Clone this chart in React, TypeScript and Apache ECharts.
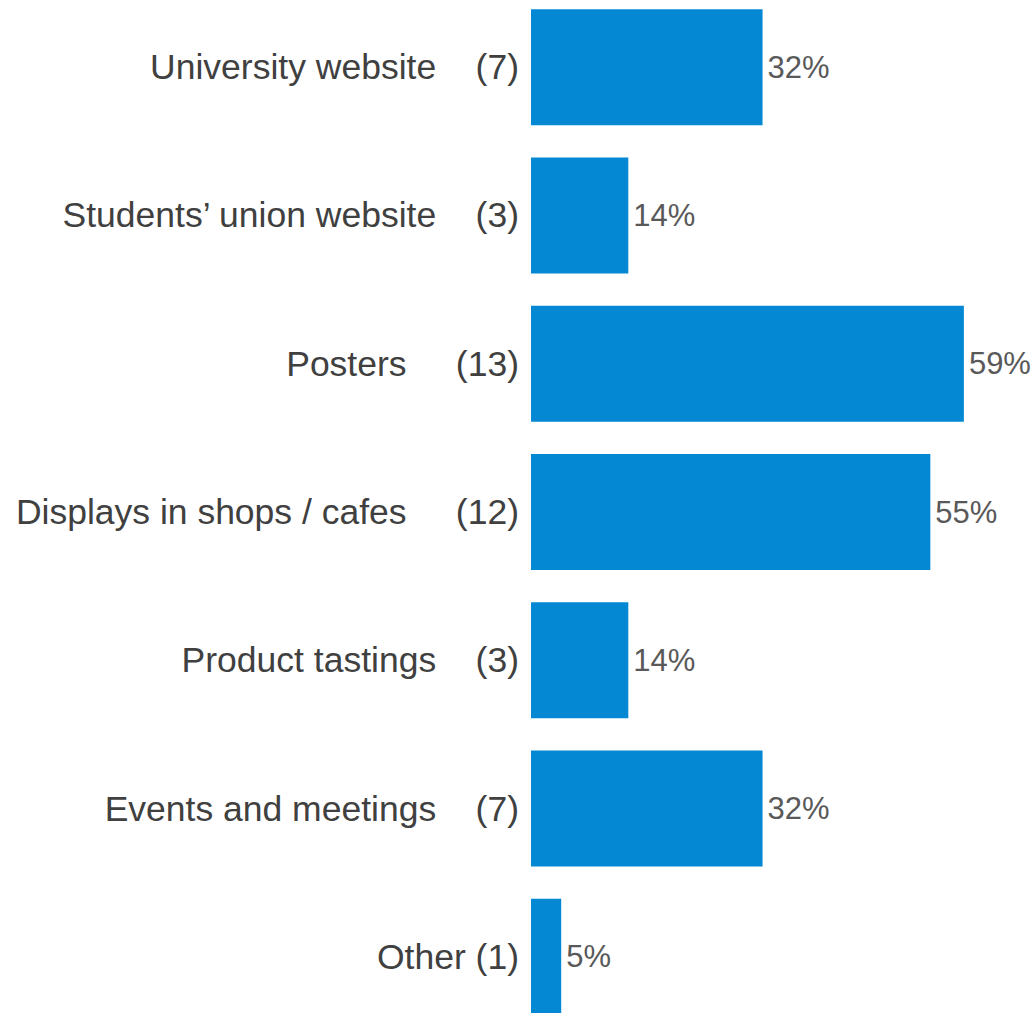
import React, { useEffect, useRef } from "react";
import * as echarts from "echarts";

const categories = [
  "University website",
  "Students’ union website",
  "Posters",
  "Displays in shops / cafes",
  "Product tastings",
  "Events and meetings",
  "Other",
];
const counts = [7, 3, 13, 12, 3, 7, 1];
const percents = [32, 14, 59, 55, 14, 32, 5];
const gapSpaces = [4, 4, 5, 5, 4, 4, 1];

const FONT = "Liberation Sans";

export default function App() {
  const ref = useRef<HTMLDivElement>(null);
  useEffect(() => {
    document.body.style.margin = "0";
    const chart = echarts.init(ref.current!, null, { renderer: "svg" });
    const labels = categories.map(
      (c, i) => `${c}${" ".repeat(gapSpaces[i])}(${counts[i]})`
    );
    chart.setOption({
      animation: false,
      grid: {
        left: 531,
        right: 2,
        top: -7,
        height: 1038,
        containLabel: false,
        outerBoundsMode: "none",
      },
      xAxis: {
        type: "value",
        min: 0.1,
        max: 15,
        show: false,
      },
      yAxis: {
        type: "category",
        inverse: true,
        data: labels,
        axisLine: { show: false },
        axisTick: { show: false },
        splitLine: { show: false },
        axisLabel: {
          margin: 12,
          color: "#404040",
          fontSize: 35.5,
          fontFamily: FONT,
        },
      },
      series: [
        {
          type: "bar",
          data: counts,
          barWidth: 116,
          itemStyle: { color: "#0588D3" },
          label: {
            show: true,
            position: "right",
            distance: 5,
            color: "#595959",
            fontSize: 31,
            fontFamily: FONT,
            formatter: (p: any) => `${percents[p.dataIndex]}%`,
          },
        },
      ],
    });
    return () => chart.dispose();
  }, []);
  return <div ref={ref} style={{ width: 1033, height: 1013 }} />;
}
